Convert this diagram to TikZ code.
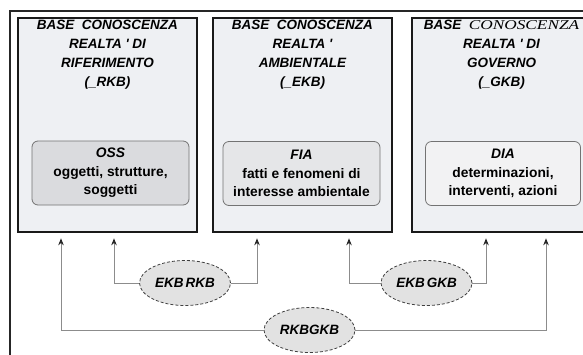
\documentclass[tikz,border=0pt]{standalone}
\usepackage{fontspec}
\usepackage{xcolor}
\usetikzlibrary{positioning,shapes.geometric,arrows.meta}

\newfontfamily\kbsans{Liberation Sans}
\newfontfamily\kbserif[FakeStretch=1.28]{Liberation Serif}

\definecolor{kbfill}{HTML}{EEF0F3}
\definecolor{kbdark}{HTML}{DADBDE}
\definecolor{kbmid}{HTML}{E5E6E8}
\definecolor{kblight}{HTML}{F2F2F3}
\definecolor{kbrelfill}{HTML}{E2E2E2}

\tikzset{
    kbbox/.style={draw=black!90, line width=2.6pt, fill=kbfill, minimum width=179pt, minimum height=214pt, inner sep=0pt},
    kbtitle/.style={font=\kbsans\bfseries\itshape\fontsize{13.5}{19}\selectfont, align=center, inner sep=0pt},
    kbinner/.style={draw=black!55, line width=0.8pt, rounded corners=6pt, minimum width=157pt, minimum height=64pt, inner sep=0pt, align=center, font=\kbsans\bfseries\fontsize{13.8}{18.5}\selectfont},
    kbrel/.style={ellipse, draw=black!75, densely dashed, line width=0.8pt, fill=kbrelfill, minimum width=91pt, minimum height=45pt, inner sep=0pt, font=\kbsans\bfseries\itshape\fontsize{13.5}{15}\selectfont},
    kblink/.style={draw=black!45, line width=0.9pt, -{Stealth[length=7pt,width=5.5pt,color=black!85]}},
    kbframe/.style={draw=black!85, line width=1.4pt}
}

\begin{document}
\begin{tikzpicture}[x=1pt, y=-1pt]
        \useasboundingbox (0,0) rectangle (583,354);
        \clip (0,0) rectangle (583,354);
        \draw[kbframe] (10,11) rectangle (640,400);

        % knowledge bases
        \node[kbbox] (rkb) at (107.5,125) {};
        \node[kbbox] (ekb) at (302.5,125) {};
        \node[kbbox] (gkb) at (501.5,125) {};

        \node[kbtitle, below=3pt of rkb.north] (rkbtitle) {BASE\ \ CONOSCENZA\\ REALTA ' DI\\ RIFERIMENTO\\ (\_RKB)};
        \node[kbtitle, below=3pt of ekb.north] (ekbtitle) {BASE\ \ CONOSCENZA\\ REALTA '\\ AMBIENTALE\\ (\_EKB)};
        \node[kbtitle, below=3pt of gkb.north] (gkbtitle) {BASE\ \ {\kbserif\mdseries CONOSCENZA}\\ REALTA ' DI\\ GOVERNO\\ (\_GKB)};

        \node[kbinner, fill=kbdark] (oss) at (110.5,173) {{\itshape OSS}\\ oggetti, strutture,\\ soggetti};
        \node[kbinner, fill=kbmid] (fia) at (301.5,173.5) {{\itshape FIA}\\ fatti e fenomeni di\\ interesse ambientale};
        \node[kbinner, fill=kblight, minimum width=155pt] (dia) at (503,173.5) {{\itshape DIA}\\ determinazioni,\\ interventi, azioni};

        % relations
        \node[kbrel] (ekbrkb) at (185,283) {EKB\hspace{2pt}RKB};
        \node[kbrel] (ekbgkb) at (426.5,283) {EKB\hspace{2pt}GKB};
        \node[kbrel] (rkbgkb) at (309.5,330) {RKBGKB};

        \draw[kblink] (ekbrkb.west) -| ([xshift=6.5pt,yshift=-5pt]rkb.south);
        \draw[kblink] (ekbrkb.east) -| ([xshift=-45.5pt,yshift=-5pt]ekb.south);
        \draw[kblink] (ekbgkb.west) -| ([xshift=46.5pt,yshift=-5pt]ekb.south);
        \draw[kblink] (ekbgkb.east) -| ([xshift=-15.5pt,yshift=-5pt]gkb.south);
        \draw[kblink] (rkbgkb.west) -| ([xshift=-46.5pt,yshift=-5pt]rkb.south);
        \draw[kblink] (rkbgkb.east) -| ([xshift=44.5pt,yshift=-5pt]gkb.south);
\end{tikzpicture}
\end{document}
